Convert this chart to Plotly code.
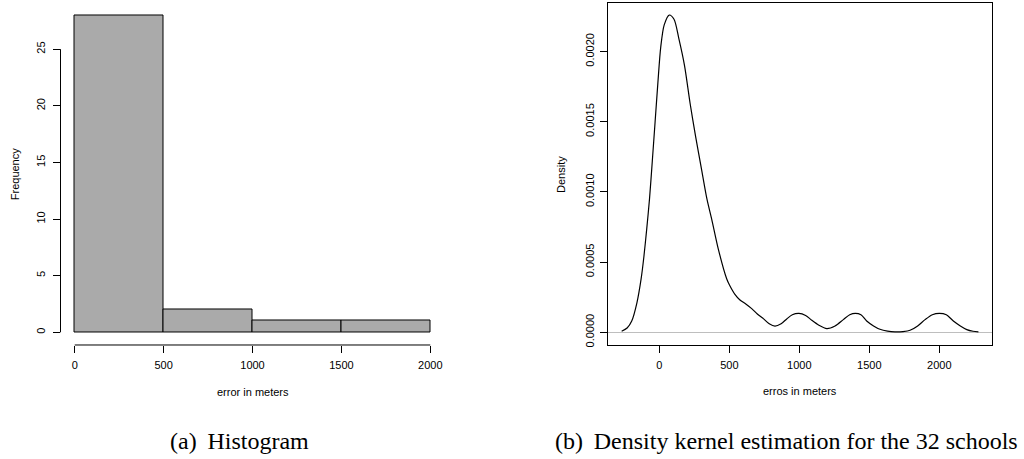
import plotly.graph_objects as go

# ---------------- data ----------------
bin_edges = [0, 500, 1000, 1500, 2000]
frequencies = [28, 2, 1, 1]
hist_xticks = [0, 500, 1000, 1500, 2000]
hist_yticks = [0, 5, 10, 15, 20, 25]

dens_x = [-269, -230, -197, -160, -130, -110, -90, -70, -50, -30, -10, 10, 35, 71,
          105, 140, 180, 220, 260, 300, 340, 374, 421, 481, 503, 540, 576, 620, 660,
          700, 743, 785, 826, 870, 910, 950, 997, 1045, 1089, 1140, 1196, 1255, 1314,
          1360, 1400, 1440, 1481, 1530, 1576, 1630, 1683, 1740, 1791, 1845, 1898,
          1950, 2000, 2050, 2100, 2150, 2196, 2240, 2279]
dens_y = [0.000007, 0.000030, 0.000080, 0.000210, 0.000380, 0.000540, 0.000735,
          0.000950, 0.001220, 0.001500, 0.001780, 0.002030, 0.002190, 0.002260,
          0.002230, 0.002090, 0.001900, 0.001630, 0.001390, 0.001170, 0.000950,
          0.000806, 0.000594, 0.000381, 0.000333, 0.000270, 0.000230, 0.000200,
          0.000168, 0.000130, 0.000097, 0.000060, 0.000043, 0.000060, 0.000095,
          0.000125, 0.000135, 0.000120, 0.000085, 0.000050, 0.000026, 0.000045,
          0.000090, 0.000125, 0.000135, 0.000125, 0.000080, 0.000045, 0.000021,
          0.000008, 0.000003, 0.000005, 0.000014, 0.000045, 0.000090, 0.000125,
          0.000135, 0.000125, 0.000080, 0.000045, 0.000019, 0.000007, 0.000002]
dens_xticks = [0, 500, 1000, 1500, 2000]
dens_yticks = [0.0, 0.0005, 0.0010, 0.0015, 0.0020]
dens_yticklabels = ["0.0000", "0.0005", "0.0010", "0.0015", "0.0020"]

W, H = 1024, 459
SANS = "Liberation Sans, Arial, Helvetica, sans-serif"
SERIF = "Liberation Serif, Times New Roman, serif"


def px_x(p):
    return p / W


def px_y(p):
    return 1 - p / H


fig = go.Figure()

# histogram bars
mids = [(a + b) / 2 for a, b in zip(bin_edges[:-1], bin_edges[1:])]
widths = [b - a for a, b in zip(bin_edges[:-1], bin_edges[1:])]
fig.add_trace(go.Bar(
    x=mids, y=frequencies, width=widths,
    marker=dict(color="#AAAAAA", line=dict(color="black", width=1)),
    xaxis="x", yaxis="y", showlegend=False, hoverinfo="skip"))

# density curve
fig.add_trace(go.Scatter(
    x=dens_x, y=dens_y, mode="lines",
    line=dict(color="black", width=1.2, shape="spline", smoothing=0.8),
    xaxis="x2", yaxis="y2", showlegend=False, hoverinfo="skip"))

tickfont = dict(family=SANS, size=11, color="black")

fig.update_layout(
    width=W, height=H,
    margin=dict(l=0, r=0, t=0, b=0),
    paper_bgcolor="white", plot_bgcolor="white",
    xaxis=dict(domain=[px_x(60.5), px_x(444.5)], range=[-80, 2080],
               showline=False, showgrid=False, zeroline=False,
               ticks="outside", ticklen=7, tickwidth=1, tickcolor="black",
               tickvals=hist_xticks, ticktext=[str(v) for v in hist_xticks],
               tickfont=tickfont, ticklabelstandoff=3, anchor="y"),
    yaxis=dict(domain=[px_y(346.5), px_y(2.5)], range=[-1.12, 29.12],
               showline=False, showgrid=False, zeroline=False,
               ticks="outside", ticklen=7, tickwidth=1, tickcolor="black",
               tickvals=hist_yticks, ticktext=[str(v) for v in hist_yticks],
               tickangle=-90, tickfont=tickfont, ticklabelstandoff=3, anchor="x"),
    xaxis2=dict(domain=[px_x(607.7), px_x(992)], range=[-368.6, 2376],
                showline=True, mirror=True, linecolor="black", linewidth=1,
                showgrid=False, zeroline=False,
                ticks="outside", ticklen=7, tickwidth=1, tickcolor="black",
                tickvals=dens_xticks, ticktext=[str(v) for v in dens_xticks],
                tickfont=tickfont, ticklabelstandoff=3, anchor="y2"),
    yaxis2=dict(domain=[px_y(346.7), px_y(2.7)], range=[-0.0000922, 0.002348],
                showline=True, mirror=True, linecolor="black", linewidth=1,
                showgrid=False, zeroline=True, zerolinecolor="#BEBEBE", zerolinewidth=1,
                ticks="outside", ticklen=7, tickwidth=1, tickcolor="black",
                tickvals=dens_yticks, ticktext=dens_yticklabels,
                tickangle=-90, tickfont=tickfont, ticklabelstandoff=1, anchor="x2"),
    bargap=0,
)

# detached R-style axis lines for the histogram
fig.add_shape(type="line", xref="x", yref="y domain",
              x0=hist_xticks[0], x1=hist_xticks[-1], y0=0, y1=0,
              line=dict(color="black", width=1))
fig.add_shape(type="line", xref="x domain", yref="y",
              x0=0, x1=0, y0=hist_yticks[0], y1=hist_yticks[-1],
              line=dict(color="black", width=1))

annots = [
    dict(text="Frequency", x=px_x(15), y=px_y(175), textangle=-90),
    dict(text="error in meters", x=px_x(252.5), y=px_y(393.3), textangle=0),
    dict(text="Density", x=px_x(561.7), y=px_y(175), textangle=-90),
    dict(text="erros in meters", x=px_x(799.8), y=px_y(392.5), textangle=0),
]
for a in annots:
    fig.add_annotation(xref="paper", yref="paper", xanchor="center", yanchor="middle",
                       showarrow=False, font=dict(family=SANS, size=11, color="black"), **a)

captions = [
    dict(text="(a)\u2009 Histogram", x=px_x(239.5), y=px_y(443)),
    dict(text="(b)\u2009 Density kernel estimation for the 32 schools", x=px_x(786.7), y=px_y(443)),
]
for c in captions:
    fig.add_annotation(xref="paper", yref="paper", xanchor="center", yanchor="middle",
                       showarrow=False, font=dict(family=SERIF, size=24, color="black"), **c)

fig.write_html("out.html", config={"displayModeBar": False},
               post_script="document.body.style.margin='0';document.body.style.overflow='hidden';")
